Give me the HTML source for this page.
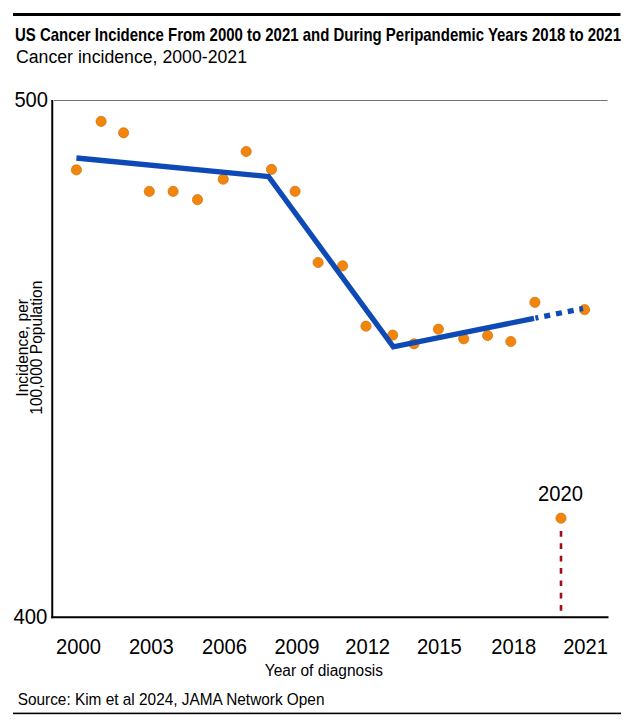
<!DOCTYPE html>
<html><head><meta charset="utf-8">
<style>
html,body{margin:0;padding:0;background:#fff;width:634px;height:726px;overflow:hidden}
svg{display:block}
text{font-family:"Liberation Sans",sans-serif;fill:#000}
</style></head>
<body>
<svg width="634" height="726" viewBox="0 0 634 726">
<rect x="13" y="13" width="607.5" height="3" fill="#000"/>
<text x="15" y="40.8" font-size="18.6" font-weight="bold" textLength="606" lengthAdjust="spacingAndGlyphs">US Cancer Incidence From 2000 to 2021 and During Peripandemic Years 2018 to 2021</text>
<text x="16" y="63" font-size="18" textLength="231" lengthAdjust="spacingAndGlyphs">Cancer incidence, 2000-2021</text>

<text x="14.4" y="107.0" font-size="21.5" textLength="33.6" lengthAdjust="spacingAndGlyphs">500</text>
<text x="13.43" y="624.4" font-size="21.5" textLength="33.87" lengthAdjust="spacingAndGlyphs">400</text>

<line x1="54" y1="100.5" x2="607.5" y2="100.5" stroke="#737373" stroke-width="1.2"/>
<line x1="52.25" y1="100" x2="52.25" y2="618.2" stroke="#000" stroke-width="2"/>
<line x1="51.25" y1="617.2" x2="608.5" y2="617.2" stroke="#000" stroke-width="2"/>

<g font-size="21.8">
<text x="56.10" y="653.6" textLength="44.90" lengthAdjust="spacingAndGlyphs">2000</text>
<text x="128.90" y="653.6" textLength="44.90" lengthAdjust="spacingAndGlyphs">2003</text>
<text x="202.10" y="653.6" textLength="44.90" lengthAdjust="spacingAndGlyphs">2006</text>
<text x="274.55" y="653.6" textLength="44.90" lengthAdjust="spacingAndGlyphs">2009</text>
<text x="345.20" y="653.6" textLength="44.90" lengthAdjust="spacingAndGlyphs">2012</text>
<text x="416.90" y="653.6" textLength="44.90" lengthAdjust="spacingAndGlyphs">2015</text>
<text x="491.30" y="653.6" textLength="44.90" lengthAdjust="spacingAndGlyphs">2018</text>
<text x="563.15" y="653.6" textLength="44.90" lengthAdjust="spacingAndGlyphs">2021</text>
<text x="538.05" y="500.7" textLength="44.90" lengthAdjust="spacingAndGlyphs">2020</text>
</g>
<text x="264.86" y="675.6" font-size="15.8" textLength="118.2" lengthAdjust="spacingAndGlyphs">Year of diagnosis</text>
<text x="17.69" y="705" font-size="16.1" textLength="306.8" lengthAdjust="spacingAndGlyphs">Source: Kim et al 2024, JAMA Network Open</text>
<rect x="13" y="712.6" width="608" height="1.6" fill="#000"/>

<g transform="translate(27.6,396.63) rotate(-90)"><text x="0" y="0" font-size="16.3" textLength="97.58" lengthAdjust="spacingAndGlyphs">Incidence, per</text></g>
<g transform="translate(41.9,414.68) rotate(-90)"><text x="0" y="0" font-size="16.3" textLength="134.0" lengthAdjust="spacingAndGlyphs">100,000 Population</text></g>

<g fill="#F2850C" stroke="#D0700A" stroke-width="0.7">
<circle cx="76.4" cy="169.9" r="5.1"/>
<circle cx="101.1" cy="121.4" r="5.1"/>
<circle cx="123.6" cy="132.8" r="5.1"/>
<circle cx="149.3" cy="191.4" r="5.1"/>
<circle cx="173.1" cy="191.4" r="5.1"/>
<circle cx="197.5" cy="199.7" r="5.1"/>
<circle cx="223.2" cy="179.2" r="5.1"/>
<circle cx="246.2" cy="151.5" r="5.1"/>
<circle cx="271.5" cy="169.4" r="5.1"/>
<circle cx="295.1" cy="191.3" r="5.1"/>
<circle cx="318.1" cy="262.5" r="5.1"/>
<circle cx="342.6" cy="265.8" r="5.1"/>
<circle cx="366" cy="326.2" r="5.1"/>
<circle cx="392.7" cy="335.1" r="5.1"/>
<circle cx="414" cy="343.8" r="5.1"/>
<circle cx="438.4" cy="329.2" r="5.1"/>
<circle cx="463.7" cy="338.8" r="5.1"/>
<circle cx="487.6" cy="335.5" r="5.1"/>
<circle cx="510.8" cy="341.5" r="5.1"/>
<circle cx="534.9" cy="302.3" r="5.1"/>
<circle cx="561" cy="518.2" r="5.1"/>
<circle cx="584.6" cy="309.7" r="5.1"/>
</g>

<line x1="561" y1="531" x2="561" y2="611" stroke="#A00F14" stroke-width="2.6" stroke-dasharray="5.7 6.65"/>

<polyline points="76.4,158.0 268.5,176.5 393.3,346.9 534,318.4" fill="none" stroke="#0D4AB5" stroke-width="5.3" stroke-linejoin="miter"/>
<line x1="535.4" y1="318.1" x2="583" y2="308.5" stroke="#0D4AB5" stroke-width="5.3" stroke-dasharray="3 6 6 6 6 6 6 6 6 6 3.5 100"/>
</svg>
</body></html>
